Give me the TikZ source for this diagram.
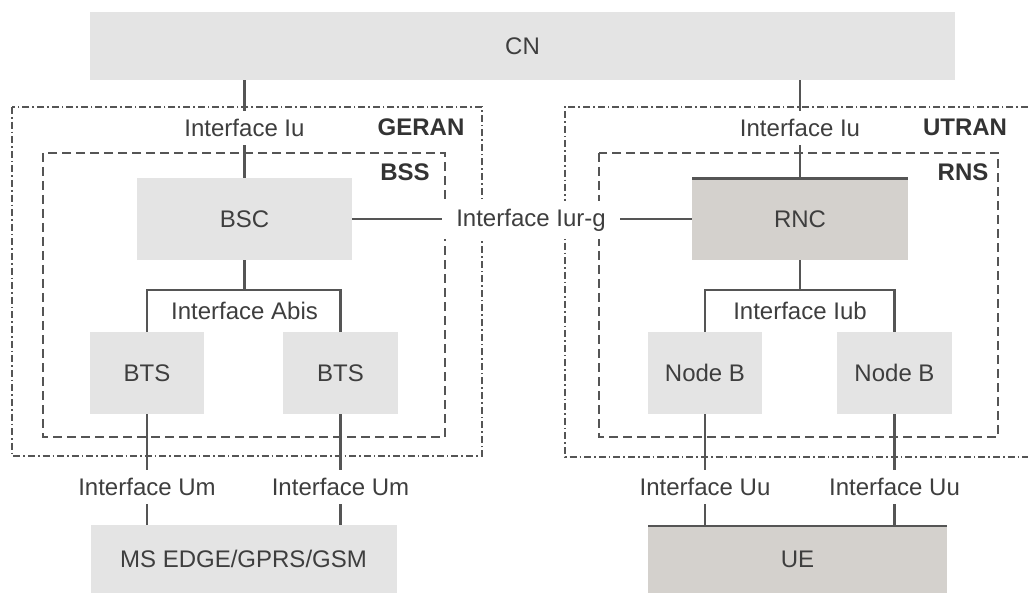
\documentclass[tikz,border=0pt]{standalone}
\usepackage{fontspec}
\setmainfont{Liberation Sans}
\definecolor{boxgray}{HTML}{E4E4E4}
\definecolor{darkbox}{HTML}{D4D1CD}
\definecolor{linegray}{HTML}{555555}
\definecolor{txtgray}{HTML}{3E3E3E}
\begin{document}
\begin{tikzpicture}[x=0.5pt,y=-0.5pt,
  font=\fontsize{12}{14}\selectfont, text=txtgray,
  unit/.style={fill=boxgray, inner sep=0pt, minimum height=41pt},
  darkunit/.style={unit, fill=darkbox, path picture={
    \draw[linegray, line width=2pt] (path picture bounding box.north west) -- (path picture bounding box.north east);}},
  link/.style={linegray, line width=1.2pt},
  ranline/.style={linegray, line width=1.4pt, dash pattern=on 3.5pt off 1.5pt on 0.8pt off 1.5pt},
  sysline/.style={linegray, line width=1.4pt, dash pattern=on 4.5pt off 2.5pt},
  iflabel/.style={fill=white, inner xsep=5pt, inner ysep=4pt},
  tag/.style={font=\fontsize{12}{14}\selectfont\bfseries, text=black!80}]
\useasboundingbox (0,0) rectangle (1028,593);

\node[unit, minimum width=432.5pt, minimum height=34pt] (cn) at (522.5,46) {CN};
\node[unit, minimum width=107.5pt] (bsc) at (244.5,219) {BSC};
\node[darkunit, minimum width=108pt] (rnc) at (800,219) {RNC};
\node[unit, minimum width=57pt] (bts1) at (147,373) {BTS};
\node[unit, minimum width=57.5pt] (bts2) at (340.5,373) {BTS};
\node[unit, minimum width=57pt] (nodeb1) at (705,373) {Node B};
\node[unit, minimum width=57.5pt] (nodeb2) at (894.5,373) {Node B};
\node[unit, minimum width=153pt, minimum height=34pt] (ms) at (243.5,559) {MS EDGE/GPRS/GSM};
\node[darkunit, minimum width=149.5pt, minimum height=34pt] (ue) at (797.5,559) {UE};

\path[draw,ranline] (12,107) rectangle (482,456);
\path[draw,sysline] (43,153) rectangle (445,437);
\path[draw,ranline] (1028,107) -| (565,457) -- (1028,457);
\path[draw,sysline] (599,153) rectangle (998,437);

\node[tag] (geran) at (421,127) {GERAN};
\node[tag] (bss) at (405,172) {BSS};
\node[tag] (utran) at (965,127) {UTRAN};
\node[tag] (rns) at (963,172) {RNS};

\coordinate (abis) at (244.5,290);
\coordinate (iub) at (800,290);

\path[draw,link] (cn.south -| bsc.north) -- (bsc.north);
\path[draw,link] (cn.south -| rnc.north) -- (rnc.north);
\path[draw,link] (bsc.east) -- (rnc.west);
\path[draw,link] (bsc.south) -- (abis);
\path[draw,link] (bts1.north) |- (abis) -| (bts2.north);
\path[draw,link] (rnc.south) -- (iub);
\path[draw,link] (nodeb1.north) |- (iub) -| (nodeb2.north);
\path[draw,link] (bts1.south) -- (bts1.south |- ms.north);
\path[draw,link] (bts2.south) -- (bts2.south |- ms.north);
\path[draw,link] (nodeb1.south) -- (nodeb1.south |- ue.north);
\path[draw,link] (nodeb2.south) -- (nodeb2.south |- ue.north);

\node[iflabel] (iu1) at (244.5,128) {Interface Iu};
\node[iflabel] (iu2) at (800,128) {Interface Iu};
\node[iflabel, inner xsep=7pt] (iurg) at (531,220) {Interface Iur-g};
\node[iflabel] (abislbl) at (244.5,311) {Interface Abis};
\node[iflabel] (iublbl) at (800,311) {Interface Iub};
\node[iflabel] (um1) at (147,487) {Interface Um};
\node[iflabel] (um2) at (340.5,487) {Interface Um};
\node[iflabel] (uu1) at (705,487) {Interface Uu};
\node[iflabel] (uu2) at (894.5,487) {Interface Uu};
\end{tikzpicture}
\end{document}
